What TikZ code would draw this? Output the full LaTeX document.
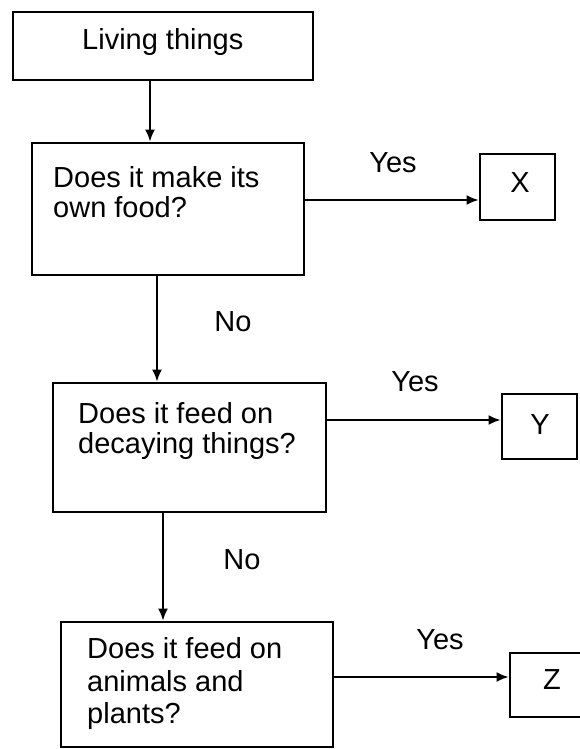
\documentclass[tikz,border=0pt]{standalone}
\usepackage{fontspec}
\setmainfont{Liberation Sans}
\usetikzlibrary{arrows.meta}
\begin{document}
\begin{tikzpicture}[x=1pt,y=-1pt,
  box/.style={draw,line width=2.8pt,inner sep=0pt},
  txt/.style={inner sep=0pt,font=\fontsize{29}{32}\selectfont},
  arr/.style={line width=2pt,-{Latex[length=12pt,width=10pt]}}]
\useasboundingbox (0,0) rectangle (579,749);
% boxes
\node[box,minimum width=300pt,minimum height=68pt] (b1) at (163,46) {};
\node[box,minimum width=272pt,minimum height=132pt] (b2) at (168,209) {};
\node[box,minimum width=273pt,minimum height=129pt] (b3) at (189.5,447.5) {};
\node[box,minimum width=272pt,minimum height=125pt] (b4) at (197,684.5) {};
\node[box,minimum width=75pt,minimum height=66pt] (bx) at (517.5,187) {};
\node[box,minimum width=75pt,minimum height=65pt] (by) at (539.5,426.5) {};
\node[box,minimum width=72pt,minimum height=64pt] (bz) at (546,685) {};
% texts
\node[txt,anchor=base west] (t1) at (82,50) {Living things};
\node[txt,anchor=base west] (t2a) at (53,187) {Does it make its};
\node[txt,anchor=base west] (t2b) at (53,217) {own food?};
\node[txt,anchor=base west] (t3a) at (78,423) {Does it feed on};
\node[txt,anchor=base west] (t3b) at (78,453) {decaying things?};
\node[txt,anchor=base west] (t4a) at (87,658) {Does it feed on};
\node[txt,anchor=base west] (t4b) at (87,691) {animals and};
\node[txt,anchor=base west] (t4c) at (87,723) {plants?};
\node[txt] (lx) at (520,183) {X};
\node[txt] (ly) at (540,425) {Y};
\node[txt] (lz) at (552,680) {Z};
\node[txt] (yes1) at (393,163) {Yes};
\node[txt] (yes2) at (415,382) {Yes};
\node[txt] (yes3) at (440,640) {Yes};
\node[txt] (no1) at (233,322) {No};
\node[txt] (no2) at (242,560) {No};
% connector guides
\coordinate (v1) at (150,0);
\coordinate (v2) at (157,0);
\coordinate (v3) at (163,0);
\coordinate (h1) at (0,200);
\coordinate (h2) at (0,420);
\coordinate (h3) at (0,677);
% connectors
\draw[arr] (v1 |- b1.south) -- (v1 |- b2.north);
\draw[arr] (v2 |- b2.south) -- (v2 |- b3.north);
\draw[arr] (v3 |- b3.south) -- (v3 |- b4.north);
\draw[arr] (b2.east |- h1) -- (bx.west |- h1);
\draw[arr] (b3.east |- h2) -- (by.west |- h2);
\draw[arr] (b4.east |- h3) -- (bz.west |- h3);
\end{tikzpicture}
\end{document}
